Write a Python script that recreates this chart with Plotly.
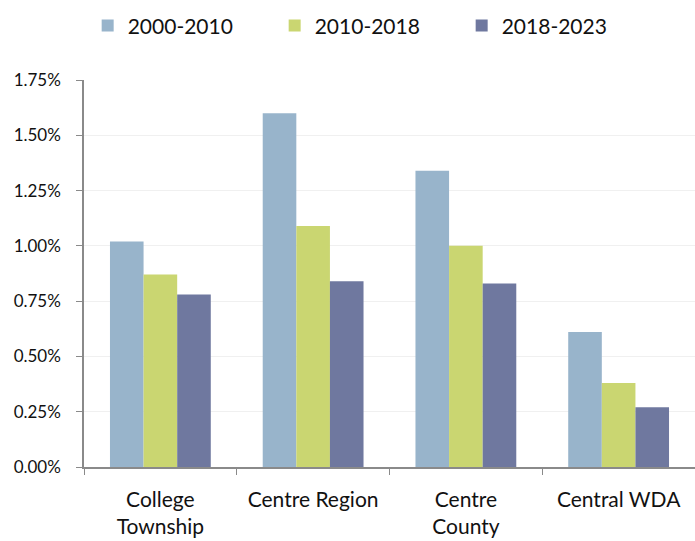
import plotly.graph_objects as go

# Average annual growth rate by area and period
areas = ["College<br>Township", "Centre Region", "Centre<br>County", "Central WDA"]
periods = ["2000-2010", "2010-2018", "2018-2023"]
growth_2000_2010 = [1.02, 1.60, 1.34, 0.61]
growth_2010_2018 = [0.87, 1.09, 1.00, 0.38]
growth_2018_2023 = [0.78, 0.84, 0.83, 0.27]
colors = ["#98b4cb", "#cad671", "#6f789f"]

y_ticks = [0, 0.25, 0.5, 0.75, 1.0, 1.25, 1.5, 1.75]

font_family = "Lato, 'Open Sans', sans-serif"

fig = go.Figure()
for name, vals, col in zip(periods, [growth_2000_2010, growth_2010_2018, growth_2018_2023], colors):
    fig.add_trace(go.Bar(x=areas, y=vals, name=name, marker=dict(color=col, line=dict(width=0))))

fig.update_layout(
    width=695, height=541,
    margin=dict(l=84, r=0, t=80, b=74),
    paper_bgcolor="white", plot_bgcolor="white",
    barmode="group", bargap=0.34, bargroupgap=0,
    font=dict(family=font_family, color="#111111"),
    legend=dict(orientation="h", x=0.006, xanchor="left", y=0.99, yref="container", yanchor="top",
                font=dict(size=21, family=font_family), itemwidth=30, traceorder="normal",
                entrywidth=142, tracegroupgap=0),
    xaxis=dict(
        range=[-0.5, 3.5], showline=True, linecolor="#8a8a8a", linewidth=1.5,
        ticks="outside", tickson="boundaries", ticklen=6, tickcolor="#8a8a8a",
        tickfont=dict(size=21, family=font_family, color="#111111"),
        ticklabelstandoff=13,
    ),
    yaxis=dict(
        range=[0, 1.75], tickvals=y_ticks, ticktext=[f"{v:.2f}%" for v in y_ticks],
        showline=True, linecolor="#8a8a8a", linewidth=1.5,
        ticks="outside", ticklen=6, tickcolor="#8a8a8a",
        gridcolor="#f0f0f0", gridwidth=1, zeroline=False,
        tickfont=dict(size=17, family=font_family, color="#111111"),
        ticklabelstandoff=12,
    ),
    showlegend=True,
)

fig.write_html("out.html")
